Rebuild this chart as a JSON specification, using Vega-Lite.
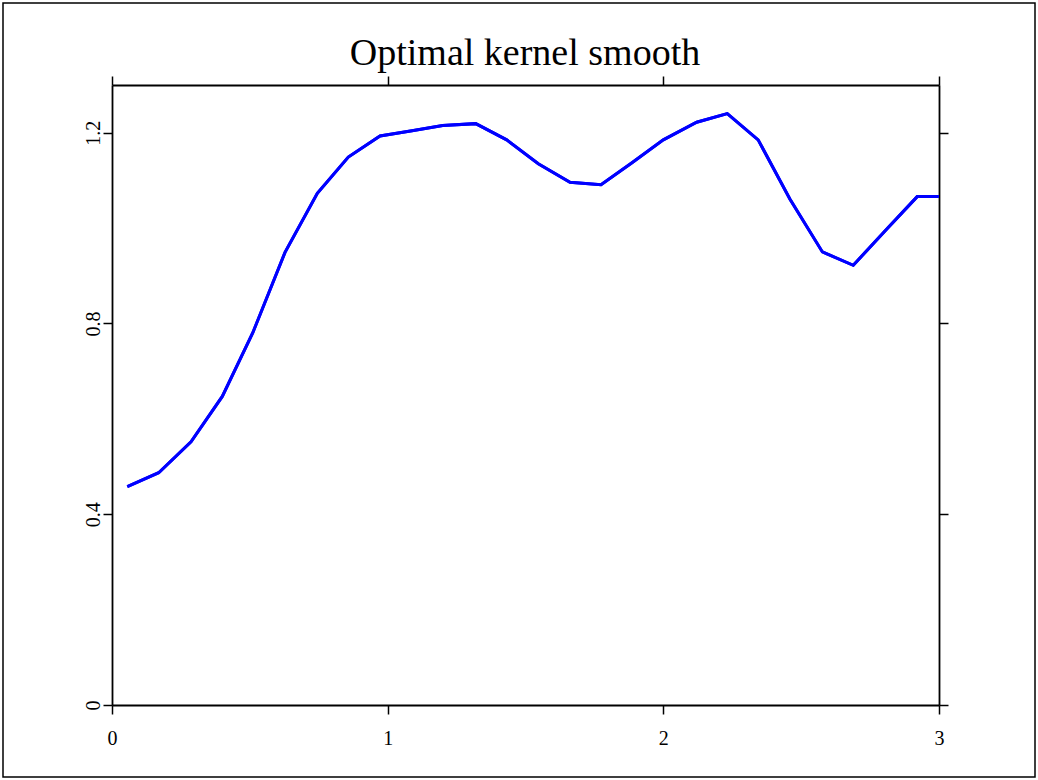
{
  "$schema": "https://vega.github.io/schema/vega-lite/v6.json",
  "width": 1032,
  "height": 774,
  "autosize": {"type": "none"},
  "padding": {"left": 3, "top": 3, "right": 3, "bottom": 3},
  "background": "white",
  "config": {
    "view": {"stroke": "black", "strokeWidth": 1.5},
    "font": "Liberation Serif",
    "axis": {"grid": false, "domainColor": "black", "domainWidth": 1.8, "tickColor": "black", "tickWidth": 1.5, "tickSize": 9, "labelFont": "Liberation Serif", "labelFontSize": 20, "labelColor": "black", "title": null}
  },
  "title": {"text": "Optimal kernel smooth", "font": "Liberation Serif", "fontSize": 38, "fontWeight": "normal", "color": "black", "anchor": "middle", "frame": "group", "offset": -70, "dx": 6},
  "data": {"values": [
    {"x": 0.0555, "y": 0.458},
    {"x": 0.1694, "y": 0.487},
    {"x": 0.2866, "y": 0.552},
    {"x": 0.4001, "y": 0.647},
    {"x": 0.5104, "y": 0.780},
    {"x": 0.6276, "y": 0.949},
    {"x": 0.7448, "y": 1.073},
    {"x": 0.8572, "y": 1.149},
    {"x": 0.9723, "y": 1.193},
    {"x": 1.0883, "y": 1.204},
    {"x": 1.1996, "y": 1.215},
    {"x": 1.3194, "y": 1.219},
    {"x": 1.4318, "y": 1.185},
    {"x": 1.5464, "y": 1.135},
    {"x": 1.6614, "y": 1.096},
    {"x": 1.7739, "y": 1.091},
    {"x": 1.8863, "y": 1.137},
    {"x": 1.9999, "y": 1.185},
    {"x": 2.121, "y": 1.222},
    {"x": 2.232, "y": 1.240},
    {"x": 2.344, "y": 1.185},
    {"x": 2.459, "y": 1.061},
    {"x": 2.577, "y": 0.950},
    {"x": 2.689, "y": 0.922},
    {"x": 2.804, "y": 0.994},
    {"x": 2.921, "y": 1.066},
    {"x": 3.0, "y": 1.066}
  ]},
  "layer": [
    {
      "mark": {"type": "line", "color": "#0000ff", "strokeWidth": 3, "clip": false},
      "encoding": {
        "x": {"field": "x", "type": "quantitative", "scale": {"domain": [0, 3], "range": [109, 936], "nice": false, "zero": false},
              "axis": {"orient": "bottom", "values": [0, 1, 2, 3], "offset": -72, "labelPadding": 14, "format": ".1~f", "labelFlush": false, "labelFontSize": 20, "labelFont": "Liberation Serif"}},
        "y": {"field": "y", "type": "quantitative", "scale": {"domain": [0, 1.3], "range": [702, 82], "nice": false, "zero": false},
              "axis": {"orient": "left", "values": [0, 0.4, 0.8, 1.2], "offset": -109, "labelAngle": 270, "labelAlign": "center", "labelBaseline": "bottom", "labelPadding": 0, "format": ".1~f", "labelFlush": false, "labelFontSize": 20, "labelFont": "Liberation Serif"}}
      }
    },
    {
      "mark": {"type": "line", "color": "#0000ff", "strokeWidth": 3, "clip": false},
      "encoding": {
        "x": {"field": "x", "type": "quantitative", "scale": {"domain": [0, 3], "range": [109, 936], "nice": false, "zero": false},
              "axis": {"orient": "top", "values": [0, 1, 2, 3], "offset": -82, "labels": false}},
        "y": {"field": "y", "type": "quantitative", "scale": {"domain": [0, 1.3], "range": [702, 82], "nice": false, "zero": false},
              "axis": {"orient": "right", "values": [0, 0.4, 0.8, 1.2], "offset": -96, "labels": false}}
      }
    }
  ],
  "resolve": {"axis": {"x": "independent", "y": "independent"}}
}
